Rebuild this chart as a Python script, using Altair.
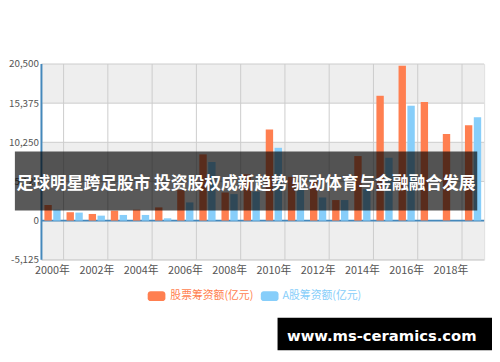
import altair as alt
import pandas as pd

# ---- data ----
years = list(range(2000, 2020))
stock_raise = [2040, 1100, 870, 1300, 1430, 1730, 4000, 8670, 3680, 6070,
               11920, 5720, 5200, 2690, 8450, 16340, 20280, 15510, 11350, 12480]
a_share_raise = [1430, 1050, 650, 740, 740, 300, 2380, 7670, 3470, 3800,
                 9530, 4000, 3030, 2690, 4100, 8230, 15040, None, None, 13520]
series_names = ["股票筹资额(亿元)", "A股筹资额(亿元)"]
series_colors = ["#ff7f50", "#87cefa"]
y_ticks = [-5125, 0, 5125, 10250, 15375, 20500]
label_years = years[::2]
grid_years = years[1::2]
title_text = "足球明星跨足股市 投资股权成新趋势 驱动体育与金融融合发展"
watermark_text = "www.ms-ceramics.com"

FONT = "Noto Sans CJK SC"
W, H = 450, 199

rows = []
for i, yr in enumerate(years):
    rows.append({"year": yr, "series": series_names[0], "value": stock_raise[i]})
    rows.append({"year": yr, "series": series_names[1], "value": a_share_raise[i]})
df = pd.DataFrame(rows)

band_df = pd.DataFrame([{"lo": y_ticks[i], "hi": y_ticks[i + 1]}
                        for i in range(0, len(y_ticks) - 1, 2)])
dummy = pd.DataFrame({"k": [0]})

xscale = alt.Scale(paddingInner=0, paddingOuter=0)
xaxis = alt.Axis(values=label_years, labelExpr="datum.label + '年'", labelAngle=0,
                 ticks=False, domain=False, grid=False, labelPadding=5,
                 labelColor="#555", labelFontSize=11, labelFont=FONT, title=None)
yscale = alt.Scale(domain=[y_ticks[0], y_ticks[-1]], nice=False, zero=False)
yaxis = alt.Axis(values=y_ticks, grid=False, ticks=False, domain=False,
                 labelExpr="replace(format(datum.value, ','), '\u2212', '-')",
                 labelPadding=3, labelColor="#555", labelFontSize=10,
                 labelFont=FONT, title=None)

bands = alt.Chart(band_df).mark_rect(color="#eeeeee").encode(
    x=alt.value(0), x2=alt.value(W),
    y=alt.Y("lo:Q", scale=yscale, axis=yaxis), y2="hi:Q")

hgrid = alt.Chart(pd.DataFrame({"v": y_ticks})).mark_rule(color="#cccccc", strokeWidth=1).encode(
    y=alt.Y("v:Q", scale=yscale, axis=yaxis))

vgrid = alt.Chart(pd.DataFrame({"year": grid_years})).mark_rule(color="#cccccc", strokeWidth=1).encode(
    x=alt.X("year:O", bandPosition=0, scale=xscale, axis=xaxis))

zero_line = alt.Chart(pd.DataFrame({"v": [0]})).mark_rule(color="#4488bb", strokeWidth=2).encode(
    y=alt.Y("v:Q", scale=yscale, axis=yaxis))

bars = alt.Chart(df).mark_bar().encode(
    x=alt.X("year:O", scale=xscale, axis=xaxis),
    xOffset=alt.XOffset("series:N", sort=series_names,
                        scale=alt.Scale(domain=series_names, paddingInner=1 / 6, paddingOuter=1 / 3)),
    y=alt.Y("value:Q", scale=yscale, axis=yaxis),
    color=alt.Color("series:N", scale=alt.Scale(domain=series_names, range=series_colors), legend=None),
)

y_axis_line = alt.Chart(dummy).mark_rule(color="#4488bb", strokeWidth=2).encode(
    x=alt.value(0), y=alt.value(0), y2=alt.value(H))

overlay = alt.Chart(dummy).mark_rect(color="black", opacity=0.65).encode(
    x=alt.value(-27), x2=alt.value(443), y=alt.value(89), y2=alt.value(149))
overlay_text = alt.Chart(dummy).mark_text(
    text=title_text, color="white", fontSize=17, fontWeight="bold", font=FONT,
    align="center", baseline="middle").encode(x=alt.value(208), y=alt.value(122))

leg1_sym = alt.Chart(dummy).mark_rect(color=series_colors[0], cornerRadius=3).encode(
    x=alt.value(108), x2=alt.value(126), y=alt.value(231), y2=alt.value(241))
leg1_txt = alt.Chart(dummy).mark_text(
    text=series_names[0], color=series_colors[0], fontSize=11, font=FONT,
    align="left", baseline="middle").encode(x=alt.value(131), y=alt.value(235.5))
leg2_sym = alt.Chart(dummy).mark_rect(color=series_colors[1], cornerRadius=3).encode(
    x=alt.value(223), x2=alt.value(241), y=alt.value(231), y2=alt.value(241))
leg2_txt = alt.Chart(dummy).mark_text(
    text=series_names[1], color=series_colors[1], fontSize=11, font=FONT,
    align="left", baseline="middle").encode(x=alt.value(245), y=alt.value(235.5))

wm_rect = alt.Chart(dummy).mark_rect(color="black").encode(
    x=alt.value(240), x2=alt.value(460), y=alt.value(258), y2=alt.value(291))
wm_text = alt.Chart(dummy).mark_text(
    text=watermark_text, color="white", fontSize=15, fontWeight="bold", font="DejaVu Sans",
    align="center", baseline="middle").encode(x=alt.value(346), y=alt.value(277))

chart = alt.layer(
    bands, hgrid, vgrid, zero_line, bars, y_axis_line,
    overlay, overlay_text, leg1_sym, leg1_txt, leg2_sym, leg2_txt, wm_rect, wm_text,
).properties(
    width=W, height=H,
    autosize=alt.AutoSizeParams(type="none"),
    padding={"left": 34, "top": 54, "right": 8, "bottom": 101},
).configure_view(stroke="#cccccc").configure(font=FONT, background="white")

chart.save("out.html", embed_options={"renderer": "svg", "actions": False})
